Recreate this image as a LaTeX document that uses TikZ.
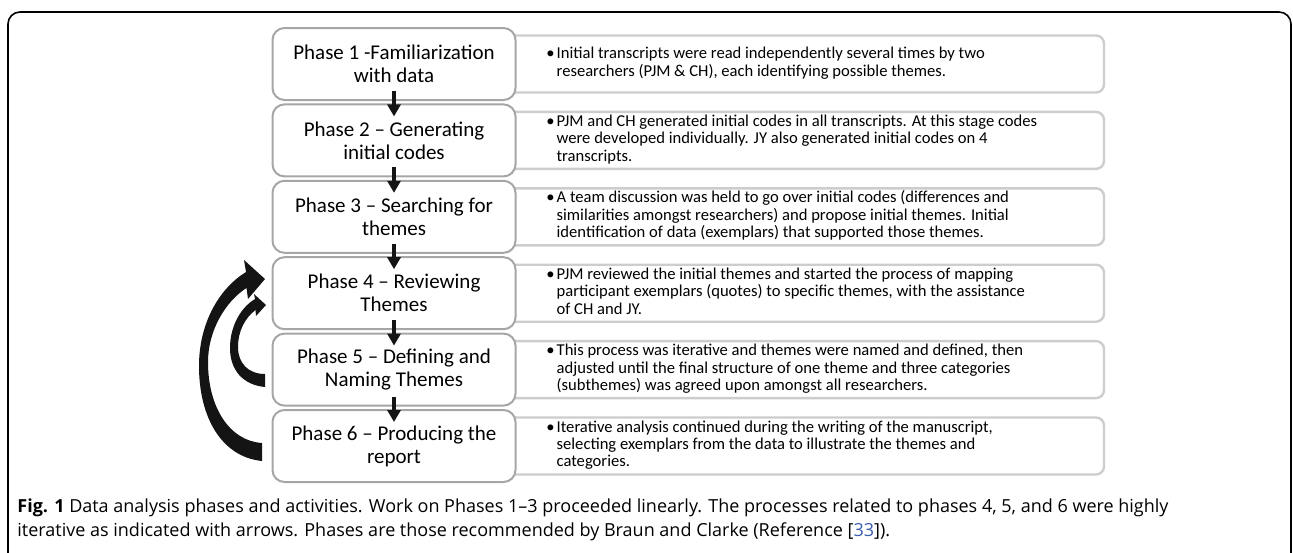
\documentclass[tikz,border=0pt]{standalone}
\usepackage{fontspec}
\setmainfont{Carlito}
\newfontfamily\captionfont{Open Sans}
\usetikzlibrary{arrows.meta}
\definecolor{rahmengrau}{HTML}{A6A6A6}
\definecolor{hellgrau}{HTML}{CDCDCD}
\definecolor{pfeilschwarz}{HTML}{141414}
\definecolor{linkblau}{HTML}{3A5DAE}
\tikzset{
    phase/.style={draw=rahmengrau, line width=1pt, fill=white, rounded corners=6pt,
        minimum width=121.5pt, minimum height=36pt, inner sep=0pt, align=center,
        font=\fontsize{10.5}{11.5}\selectfont},
    aktivitaet/.style={draw=hellgrau, line width=1.2pt, fill=white, rounded corners=4pt,
        minimum width=299.5pt, minimum height=28.5pt, inner sep=0pt},
    stichpunkt/.style={anchor=west, inner sep=0pt, font=\fontsize{8.3}{8.7}\selectfont},
    schritt/.style={draw=pfeilschwarz, line width=2pt, -{Triangle[length=6pt,width=6.5pt]}}
}
\newcommand{\punkt}[1]{\textbullet\hspace{1pt}\begin{tabular}[t]{@{}l@{}}#1\end{tabular}}

\begin{document}
\begin{tikzpicture}[x=0.5pt, y=-0.5pt]

% Rahmen
\useasboundingbox (0,0) rectangle (1293,552);
\draw[line width=0.8pt, rounded corners=6pt] (8,620) -- (8,12) -- (1291,12) -- (1291,620);

% Kästen rechts
\node[aktivitaet] (a1) at (804.5,64) {};
\node[aktivitaet] (a2) at (804.5,140.4) {};
\node[aktivitaet] (a3) at (804.5,216.8) {};
\node[aktivitaet] (a4) at (804.5,293.2) {};
\node[aktivitaet] (a5) at (804.5,369.6) {};
\node[aktivitaet] (a6) at (804.5,446) {};

% Phasen
\node[phase] (p1) at (394,64) {Phase 1 -Familiarization\\with data};
\node[phase] (p2) at (394,140.4) {Phase 2 – Generating\\initial codes};
\node[phase] (p3) at (394,216.8) {Phase 3 – Searching for\\themes};
\node[phase] (p4) at (394,293.2) {Phase 4 – Reviewing\\Themes};
\node[phase] (p5) at (394,369.6) {Phase 5 – Defining and\\Naming Themes};
\node[phase] (p6) at (394,446) {Phase 6 – Producing the\\report};

% Texte
\node[stichpunkt] (t1) at (546,64) {\punkt{Initial transcripts were read independently several times by two\\researchers (PJM \& CH), each identifying possible themes.}};
\node[stichpunkt] (t2) at (546,140.4) {\punkt{PJM and CH generated initial codes in all transcripts. At this stage codes\\were developed individually. JY also generated initial codes on 4\\transcripts.}};
\node[stichpunkt] (t3) at (546,216.8) {\punkt{A team discussion was held to go over initial codes (differences and\\similarities amongst researchers) and propose initial themes. Initial\\identification of data (exemplars) that supported those themes.}};
\node[stichpunkt] (t4) at (546,293.2) {\punkt{PJM reviewed the initial themes and started the process of mapping\\participant exemplars (quotes) to specific themes, with the assistance\\of CH and JY.}};
\node[stichpunkt] (t5) at (546,369.6) {\punkt{This process was iterative and themes were named and defined, then\\adjusted until the final structure of one theme and three categories\\(subthemes) was agreed upon amongst all researchers.}};
\node[stichpunkt] (t6) at (546,446) {\punkt{Iterative analysis continued during the writing of the manuscript,\\selecting exemplars from the data to illustrate the themes and\\categories.}};

% Pfeile nach unten
\draw[schritt] ([yshift=5pt]p1.south) -- ([yshift=-6.5pt]p2.north);
\draw[schritt] ([yshift=5pt]p2.south) -- ([yshift=-6.5pt]p3.north);
\draw[schritt] ([yshift=5pt]p3.south) -- ([yshift=-6.5pt]p4.north);
\draw[schritt] ([yshift=5pt]p4.south) -- ([yshift=-6.5pt]p5.north);
\draw[schritt] ([yshift=5pt]p5.south) -- ([yshift=-6.5pt]p6.north);

% Bogen Phase 6 -> Phase 4
\fill[pfeilschwarz] (262,461) .. controls (222,457) and (199,418) .. (199,366)
    .. controls (199,322) and (220,288) .. (246,272) -- (244,260) -- (265,279)
    -- (248,299) -- (246.5,288) .. controls (226,301) and (208,330) .. (208,362)
    .. controls (208,408) and (230,441) .. (262,443) -- cycle;

% Bogen Phase 5 -> Phase 4
\fill[pfeilschwarz] (265,387) .. controls (243,385) and (230,370) .. (230,348)
    .. controls (230,327) and (240,308) .. (255,299) -- (254,294) -- (266,305)
    -- (256,316) -- (255.5,310) .. controls (245,318) and (238,331) .. (238,347)
    .. controls (238,363) and (248,374) .. (265,374) -- cycle;

% Bildunterschrift
\node[anchor=north west, inner sep=0pt, align=left, font=\captionfont\fontsize{9}{12}\selectfont] (cap) at (17,498)
    {\textbf{Fig. 1} Data analysis phases and activities. Work on Phases 1–3 proceeded linearly. The processes related to phases 4, 5, and 6 were highly\\iterative as indicated with arrows. Phases are those recommended by Braun and Clarke (Reference [\textcolor{linkblau}{33}]).};

\end{tikzpicture}
\end{document}
